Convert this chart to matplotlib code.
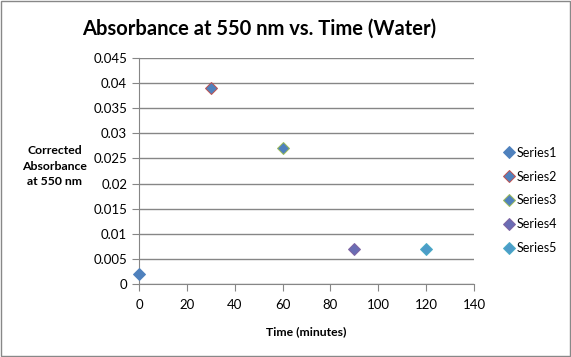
import matplotlib.pyplot as plt
from matplotlib.patches import Rectangle

plt.rcParams['font.family'] = ['Lato', 'DejaVu Sans']

series = ["Series1", "Series2", "Series3", "Series4", "Series5"]
time_min = [0, 30, 60, 90, 120]
absorb = [0.002, 0.039, 0.027, 0.007, 0.007]
fills = ["#4F81BD", "#4F81BD", "#4F81BD", "#6A6DB4", "#4D9CC9"]
edges = ["#4F81BD", "#C0504D", "#9BBB59", "#8064A2", "#4BACC6"]

fig = plt.figure(figsize=(5.71, 3.57), dpi=100)
fig.patches.append(Rectangle((0.002, 0.003), 0.996, 0.994, transform=fig.transFigure,
                             fill=False, edgecolor="#888888", linewidth=1))
ax = fig.add_axes([139 / 571, 1 - 284 / 357, 335 / 571, 226 / 357])

for s, x, y, fc, ec in zip(series, time_min, absorb, fills, edges):
    ax.plot([x], [y], linestyle="none", marker="D", markersize=6.3,
            markerfacecolor=fc, markeredgecolor=ec, markeredgewidth=0.7, label=s,
            clip_on=False, zorder=3)

ax.set_xlim(0, 140)
ax.set_ylim(0, 0.045)
ax.set_xticks(range(0, 141, 20))
ax.set_yticks([i * 0.005 for i in range(10)])
ax.set_yticklabels(["0", "0.005", "0.01", "0.015", "0.02", "0.025", "0.03", "0.035", "0.04", "0.045"])
ax.grid(axis="y", color="#868686", linewidth=1)
ax.set_axisbelow(True)
for side in ["top", "right"]:
    ax.spines[side].set_visible(False)
for side in ["left", "bottom"]:
    ax.spines[side].set_color("#868686")
ax.tick_params(axis="both", colors="#868686", labelcolor="black", labelsize=9.5, length=5)
ax.tick_params(axis="x", pad=6)

fig.text(259 / 571, 1 - 29 / 357, "Absorbance at 550 nm vs. Time (Water)", fontsize=14.5,
         fontweight="bold", ha="center", va="center")
ax.set_xlabel("Time (minutes)", fontsize=8.8, fontweight="bold", labelpad=11)
fig.text(55 / 571, 1 - 166 / 357, "Corrected\nAbsorbance\nat 550 nm", fontsize=8.8,
         fontweight="bold", ha="center", va="center", linespacing=1.45)

ax.legend(loc="center left", bbox_to_anchor=(1.07, 0.37), frameon=False, fontsize=9,
          handletextpad=0.1, labelspacing=0.95, handlelength=1, borderaxespad=0)

fig.savefig("out.png", dpi=100)
